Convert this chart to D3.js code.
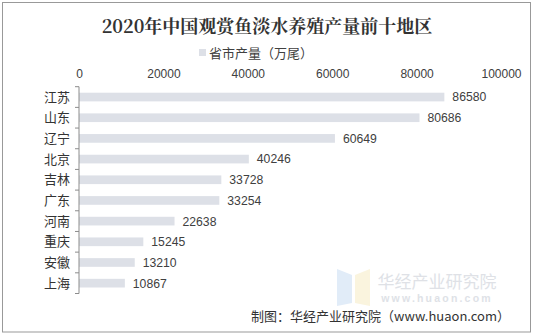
<!DOCTYPE html>
<html><head><meta charset="utf-8">
<script src="https://cdn.jsdelivr.net/npm/d3@7"></script>
<style>body{margin:0;background:#fff}svg{display:block}</style>
</head><body>
<script>
const categories = ["江苏","山东","辽宁","北京","吉林","广东","河南","重庆","安徽","上海"];
const values = [86580,80686,60649,40246,33728,33254,22638,15245,13210,10867];
const tickValues = [0,20000,40000,60000,80000,100000];
const title = "2020年中国观赏鱼淡水养殖产量前十地区";
const legendLabel = "省市产量（万尾）";
const source = "制图：华经产业研究院（www.huaon.com）";

const W = 533, H = 335;
const svg = d3.select("body").append("svg").attr("width", W).attr("height", H);
const cjk = "'Noto Sans CJK SC','Noto Sans',sans-serif";
const num = "'Liberation Sans',Arial,sans-serif";

svg.append("rect").attr("x",2.5).attr("y",2.5).attr("width",528).attr("height",329.5)
  .attr("fill","#fff").attr("stroke","#999").attr("stroke-width",1);

// watermark
const wm = svg.append("g").attr("opacity",0.55);
wm.append("path").attr("d","M337,269 L352,275 L352,303 L337,306 Z").attr("fill","#c9ddf3");
wm.append("path").attr("d","M355,275 L370,269 L370,306 L355,303 Z").attr("fill","#f6ecc4");
wm.append("text").attr("x",437).attr("y",288).attr("text-anchor","middle")
  .attr("font-family",cjk).attr("font-size",17).attr("fill","#c5cad3").text("华经产业研究院");
wm.append("text").attr("x",437).attr("y",302).attr("text-anchor","middle")
  .attr("font-family",num).attr("font-weight","bold").attr("font-size",10.5).attr("letter-spacing",2.2)
  .attr("fill","#c5cad3").text("www.huaon.com");

svg.append("text").attr("x",267).attr("y",33).attr("text-anchor","middle")
  .attr("font-family","'Noto Serif CJK SC','Noto Sans CJK SC',serif").attr("font-weight","bold")
  .attr("font-size",18).attr("fill","#333").text(title);

svg.append("rect").attr("x",199).attr("y",49).attr("width",7).attr("height",7).attr("fill","#dde0e7");
svg.append("text").attr("x",209).attr("y",57.5).attr("font-family",cjk).attr("font-size",13)
  .attr("fill","#404040").text(legendLabel);

const x = d3.scaleLinear().domain([0,100000]).range([79,501]);
const y = d3.scaleBand().domain(categories).range([86.7,293.5]).padding(0);

const xAxis = svg.append("g").attr("transform","translate(0,78)")
  .call(d3.axisTop(x).tickValues(tickValues).tickFormat(d3.format("d")).tickSize(0).tickPadding(0));
xAxis.select(".domain").remove();
xAxis.selectAll("text").attr("font-family",num).attr("font-size",12).attr("fill","#404040");

const bh = y.bandwidth()*0.42;
svg.append("g").selectAll("rect").data(categories).join("rect")
  .attr("x",x(0)).attr("y",(c)=>y(c)+y.bandwidth()/2-bh/2)
  .attr("width",(c,i)=>x(values[i])-x(0)).attr("height",bh).attr("fill","#dde0e7");

svg.append("g").selectAll("text").data(categories).join("text")
  .attr("x",(c,i)=>x(values[i])+8).attr("y",(c)=>y(c)+y.bandwidth()/2).attr("dy","0.36em")
  .attr("font-family",num).attr("font-size",12.2).attr("fill","#404040").text((c,i)=>values[i]);

// y axis with ticks at band boundaries
const yg = svg.append("g");
yg.append("line").attr("x1",x(0)).attr("x2",x(0)).attr("y1",y.range()[0]).attr("y2",y.range()[1])
  .attr("stroke","#8c8c8c");
const bounds = categories.map(c=>y(c)).concat([y.range()[1]]);
yg.selectAll("line.t").data(bounds).join("line").attr("class","t")
  .attr("x1",x(0)-4).attr("x2",x(0)).attr("y1",d=>d).attr("y2",d=>d).attr("stroke","#8c8c8c");
yg.selectAll("text").data(categories).join("text")
  .attr("x",70).attr("y",c=>y(c)+y.bandwidth()/2).attr("dy","0.36em").attr("text-anchor","end")
  .attr("font-family",cjk).attr("font-size",13).attr("fill","#333").text(c=>c);

svg.append("text").attr("x",510).attr("y",321).attr("text-anchor","end")
  .attr("font-family",cjk).attr("font-size",13).attr("fill","#333").text(source);
</script>
</body></html>
